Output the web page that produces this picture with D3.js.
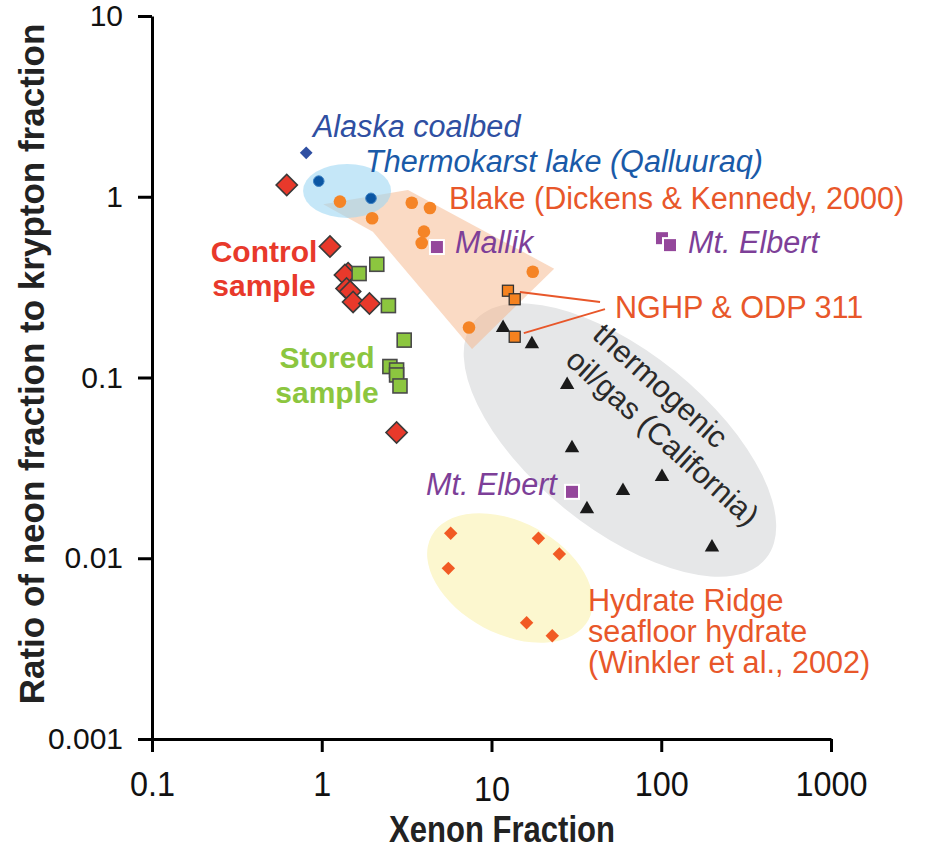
<!DOCTYPE html>
<html>
<head>
<meta charset="utf-8">
<script src="https://cdn.jsdelivr.net/npm/d3@7"></script>
<style>
  html, body { margin: 0; padding: 0; background: #fff; }
  svg { display: block; }
</style>
</head>
<body>
<svg id="chart" width="925" height="850"></svg>
<script>
// ---------------- DATA ----------------
const xTickValues = [0.1, 1, 10, 100, 1000];
const xTickLabels = ["0.1", "1", "10", "100", "1000"];
const yTickValues = [0.001, 0.01, 0.1, 1, 10];
const yTickLabels = ["0.001", "0.01", "0.1", "1", "10"];

const alaskaCoalbed = [[0.81, 1.75]];
const thermokarst = [[0.96, 1.22], [1.95, 0.98]];
const blake = [[1.28, 0.94], [1.98, 0.76], [3.39, 0.927], [4.34, 0.867], [4.0, 0.641],
               [3.88, 0.555], [17.5, 0.385], [7.37, 0.189]];
const mallik = [[4.77, 0.527]];
const mtElbert = [[101, 0.59], [112.6, 0.54], [29.8, 0.0233]];
const nghpOdp = [[12.5, 0.302], [13.7, 0.271], [13.7, 0.168]];
const thermogenic = [[11.7, 0.188], [17.3, 0.153], [27.9, 0.091], [29.8, 0.0407],
                     [36.5, 0.0187], [59.5, 0.0236], [101, 0.0282], [199, 0.0115]];
const hydrateRidge = [[5.75, 0.01374], [18.9, 0.0129], [25.1, 0.01055], [5.57, 0.00879],
                      [16.1, 0.0044], [22.8, 0.00373]];
const controlSample = [[0.622, 1.16], [1.118, 0.53], [1.43, 0.377], [1.37, 0.369],
                       [1.40, 0.311], [1.47, 0.299], [1.53, 0.262], [1.91, 0.257], [2.76, 0.0496]];
const storedSample = [[1.66, 0.376], [2.11, 0.423], [2.47, 0.25], [3.06, 0.161],
                      [2.52, 0.115], [2.76, 0.11], [2.76, 0.1033], [2.89, 0.0898]];

// region outlines (data space)
const blakeRegion = [[1.02, 0.91], [3.22, 1.09], [23.4, 0.40], [7.68, 0.144], [2.0, 0.64]];
const thermokarstRegionCenter = [1.41, 1.077];
const thermogenicRegionCenter = [57.1, 0.0451];
const hydrateRegionCenter = [12.85, 0.00778];

// leader lines for NGHP & ODP 311
const nghpLeaders = [[[14.7, 0.297], [43.6, 0.262]], [[15.5, 0.176], [46.6, 0.239]]];

// ---------------- SCALES ----------------
const svg = d3.select("#chart");
const x = d3.scaleLog().domain([0.1, 1000]).range([152, 831]);
const y = d3.scaleLog().domain([0.001, 10]).range([739, 16]);
const px = d => x(d[0]), py = d => y(d[1]);

const SANS = "'Liberation Sans', Arial, Helvetica, sans-serif";
const NARROW = "'Liberation Sans Narrow', 'Arial Narrow', 'Liberation Sans', Arial, sans-serif";

// ---------------- REGIONS ----------------
const regions = svg.append("g");
regions.append("ellipse")
  .attr("cx", x(thermogenicRegionCenter[0])).attr("cy", y(thermogenicRegionCenter[1]))
  .attr("rx", 188).attr("ry", 88)
  .attr("transform", `rotate(39 ${x(thermogenicRegionCenter[0])} ${y(thermogenicRegionCenter[1])})`)
  .attr("fill", "#e6e7e8");
regions.append("ellipse")
  .attr("cx", x(hydrateRegionCenter[0])).attr("cy", y(hydrateRegionCenter[1]))
  .attr("rx", 89).attr("ry", 56)
  .attr("transform", `rotate(28 ${x(hydrateRegionCenter[0])} ${y(hydrateRegionCenter[1])})`)
  .attr("fill", "#fcf7cf");
regions.append("path")
  .attr("d", d3.line().x(px).y(py).curve(d3.curveLinearClosed)(blakeRegion))
  .attr("fill", "#f6b58a").attr("fill-opacity", 0.5);
regions.append("ellipse")
  .attr("cx", x(thermokarstRegionCenter[0])).attr("cy", y(thermokarstRegionCenter[1]))
  .attr("rx", 44).attr("ry", 27)
  .attr("fill", "#9fd7f3").attr("fill-opacity", 0.6);

// ---------------- AXES ----------------
const yAxis = d3.axisLeft(y).tickValues(yTickValues)
  .tickFormat((d, i) => yTickLabels[i]).tickSizeInner(14).tickSizeOuter(0).tickPadding(15);
const xAxis = d3.axisBottom(x).tickValues(xTickValues)
  .tickFormat((d, i) => xTickLabels[i]).tickSizeInner(13).tickSizeOuter(0).tickPadding(18);

const gy = svg.append("g").attr("transform", "translate(152,0)").call(yAxis);
gy.select(".domain").attr("stroke", "#000").attr("stroke-width", 3);
gy.selectAll(".tick line").attr("stroke", "#000").attr("stroke-width", 3);
gy.selectAll(".tick text").attr("font-family", SANS).attr("font-size", 30).attr("fill", "#111");

const gx = svg.append("g").attr("transform", "translate(0,739)").call(xAxis);
gx.select(".domain").attr("stroke", "#000").attr("stroke-width", 3);
gx.selectAll(".tick line").attr("stroke", "#000").attr("stroke-width", 3);
gx.selectAll(".tick text").attr("font-family", NARROW).attr("font-size", 36).attr("fill", "#111")
  .attr("transform", "scale(0.9,1)");
gx.selectAll(".tick").filter(d => d === 10).select("text").attr("dy", "0.86em");

svg.append("text")
  .attr("x", 502).attr("y", 842).attr("text-anchor", "middle")
  .attr("font-family", NARROW).attr("font-weight", "bold").attr("font-size", 37)
  .attr("textLength", 226).attr("lengthAdjust", "spacingAndGlyphs")
  .attr("fill", "#222").text("Xenon Fraction");
svg.append("text")
  .attr("transform", "translate(44,364) rotate(-90)").attr("text-anchor", "middle")
  .attr("font-family", SANS).attr("font-weight", "bold").attr("font-size", 35)
  .attr("fill", "#222").text("Ratio of neon fraction to krypton fraction");

// ---------------- LEADER LINES ----------------
svg.append("g").selectAll("line").data(nghpLeaders).join("line")
  .attr("x1", d => px(d[0])).attr("y1", d => py(d[0]))
  .attr("x2", d => px(d[1])).attr("y2", d => py(d[1]))
  .attr("stroke", "#e8572a").attr("stroke-width", 2);

// ---------------- MARKERS ----------------
const marks = svg.append("g");
function squares(data, size, fill, stroke, sw) {
  marks.append("g").selectAll("rect").data(data).join("rect")
    .attr("x", d => px(d) - size / 2).attr("y", d => py(d) - size / 2)
    .attr("width", size).attr("height", size)
    .attr("fill", fill).attr("stroke", stroke).attr("stroke-width", sw);
}
function diamonds(data, side, fill, stroke, sw) {
  marks.append("g").selectAll("path").data(data).join("path")
    .attr("d", d3.symbol(d3.symbolSquare, side * side)())
    .attr("transform", d => `translate(${px(d)},${py(d)}) rotate(45)`)
    .attr("fill", fill).attr("stroke", stroke).attr("stroke-width", sw);
}
function dots(data, r, fill, stroke, sw) {
  marks.append("g").selectAll("circle").data(data).join("circle")
    .attr("cx", px).attr("cy", py).attr("r", r)
    .attr("fill", fill).attr("stroke", stroke).attr("stroke-width", sw);
}

dots(blake, 6.3, "#f58426", "none", 0);
dots(thermokarst, 5.3, "#0b56a3", "#3d82c4", 1);
diamonds(alaskaCoalbed, 9, "#2f4fa2", "none", 0);
squares(mallik, 14, "#94479b", "#fff", 2);
squares(mtElbert, 14, "#94479b", "#fff", 2);
marks.append("g").selectAll("path").data(thermogenic).join("path")
  .attr("d", d3.symbol(d3.symbolTriangle, 90)())
  .attr("transform", d => `translate(${px(d)},${py(d)})`)
  .attr("fill", "#1a1a1a");
squares(nghpOdp, 11, "#f5821f", "#333", 1.3);
diamonds(hydrateRidge, 9.5, "#f15a24", "none", 0);
diamonds(controlSample, 15, "#e8392b", "#3a3a3a", 1.6);
squares(storedSample, 14, "#8cc63f", "#4a4a4a", 1.6);

// ---------------- LABELS ----------------
const labels = svg.append("g").attr("font-family", SANS).attr("font-size", 30.6);
function label(pos, lines, color, opts = {}) {
  const t = labels.append("text")
    .attr("x", x(pos[0])).attr("y", y(pos[1]))
    .attr("fill", color)
    .attr("text-anchor", opts.anchor || "start")
    .attr("font-style", opts.italic ? "italic" : "normal")
    .attr("font-weight", opts.bold ? "bold" : "normal");
  if (opts.size) t.attr("font-size", opts.size);
  lines.forEach((s, i) => t.append("tspan")
    .attr("x", x(pos[0])).attr("dy", i === 0 ? 0 : (opts.lh || 32)).text(s));
}
label([0.887, 2.14], ["Alaska coalbed"], "#2f4fa2", { italic: true });
label([1.80, 1.37], ["Thermokarst lake (Qalluuraq)"], "#1a5aa8", { italic: true });
label([5.62, 0.855], ["Blake (Dickens & Kennedy, 2000)"], "#e8572a");
label([6.10, 0.489], ["Mallik"], "#7d3f98", { italic: true });
label([143.8, 0.489], ["Mt. Elbert"], "#7d3f98", { italic: true });
label([4.11, 0.0224], ["Mt. Elbert"], "#7d3f98", { italic: true });
label([53.4, 0.213], ["NGHP & ODP 311"], "#e8572a");
label([0.457, 0.435], ["Control", "sample"], "#e8392b", { bold: true, anchor: "middle", lh: 34, size: 30 });
label([1.074, 0.113], ["Stored", "sample"], "#8cc63f", { bold: true, anchor: "middle", lh: 35, size: 30 });
label([37.0, 0.0051], ["Hydrate Ridge", "seafloor hydrate", "(Winkler et al., 2002)"], "#e8572a", { lh: 31 });

const thermoLabelStart = [38.6, 0.1675];
const tg = labels.append("text")
  .attr("transform", `translate(${x(thermoLabelStart[0])},${y(thermoLabelStart[1])}) rotate(42)`)
  .attr("text-anchor", "start").attr("fill", "#2a2a2a");
tg.append("tspan").attr("x", 0).attr("y", 0).text("thermogenic");
tg.append("tspan").attr("x", -3).attr("y", 37).text("oil/gas (California)");
</script>
</body>
</html>
